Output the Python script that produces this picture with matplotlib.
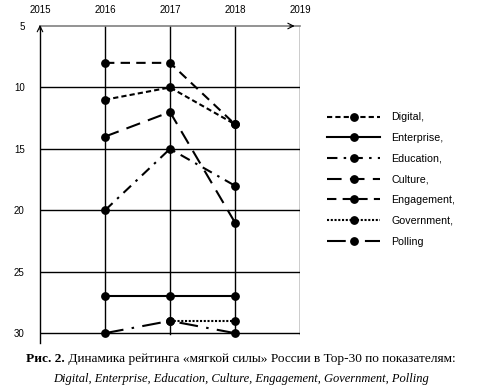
import numpy as np
import matplotlib
matplotlib.use("Agg")
import matplotlib.pyplot as plt

# данные: места России в рейтинге (меньше = лучше)
years = [2016, 2017, 2018]
digital = [11, 10, 13]
enterprise = [27, 27, 27]
education = [20, 15, 18]
culture = [14, 12, 21]
engagement = [8, 8, 13]
government = [np.nan, 29, 29]
polling = [30, 29, 30]

x_ticks = [2015, 2016, 2017, 2018, 2019]
y_ticks = [5, 10, 15, 20, 25, 30]

plt.rcParams['font.family'] = ['Liberation Sans', 'DejaVu Sans']

fig = plt.figure(figsize=(4.8, 3.91), dpi=100)
ax = fig.add_axes([40 / 480, 1 - 343 / 391, 260 / 480, 317 / 391])

series = [
    ('Digital,', digital, (0, (2.5, 1.5))),
    ('Enterprise,', enterprise, '-'),
    ('Education,', education, (0, (5, 3, 1.2, 3))),
    ('Culture,', culture, (0, (7, 4))),
    ('Engagement,', engagement, (0, (4.5, 3))),
    ('Government,', government, (0, (1, 0.8))),
    ('Polling', polling, (0, (9, 4, 1.2, 4))),
]
for name, vals, ls in series:
    ax.plot(years, vals, color='black', linestyle=ls, linewidth=1.5,
            marker='o', markersize=5.3, label=name)

ax.set_xlim(2015, 2019)
ax.set_ylim(30.8, 5)
ax.set_xticks(x_ticks)
ax.set_yticks(y_ticks)
ax.xaxis.tick_top()
ax.tick_params(axis='both', length=0, labelsize=7)
ax.tick_params(axis='x', pad=8)
ax.tick_params(axis='y', pad=11)

# сетка
for yv in y_ticks[1:]:
    ax.plot([2015, 2019.02], [yv, yv], color='black', linewidth=1, zorder=0)
for xv in x_ticks[1:]:
    ax.plot([xv, xv], [5, 30.1], color='black', linewidth=1, zorder=0)

for s in ['right', 'bottom']:
    ax.spines[s].set_visible(False)
ax.spines['left'].set_linewidth(1)
ax.spines['top'].set_color('#808080')
ax.spines['top'].set_linewidth(1.2)
ax.annotate('', xy=(0, 1.012), xytext=(0, 0.98), xycoords='axes fraction',
            arrowprops=dict(arrowstyle='->', color='black', lw=0.8))
ax.annotate('', xy=(0.99, 1), xytext=(0.95, 1), xycoords='axes fraction',
            arrowprops=dict(arrowstyle='->', color='black', lw=0.8))

ax.legend(loc='upper left', bbox_to_anchor=(322 / 480, 1 - 107 / 391),
          bbox_transform=fig.transFigure, frameon=False, fontsize=7.7,
          handlelength=4.9, labelspacing=1.0, borderpad=0, handletextpad=1.1)

# подпись
t1 = fig.text(26 / 480, 1 - 362 / 391, 'Рис. 2.', fontsize=9.6,
              family='Liberation Serif', fontweight='bold', va='baseline')
ax.annotate(' Динамика рейтинга «мягкой силы» России в Тор-30 по показателям:',
            xy=(1, 0), xycoords=t1, fontsize=9.6, family='Liberation Serif',
            va='bottom', annotation_clip=False)
fig.text(241 / 480, 1 - 382 / 391,
         'Digital, Enterprise, Education, Culture, Engagement, Government, Polling',
         fontsize=9, family='Liberation Serif', style='italic', ha='center',
         va='baseline')

fig.savefig('out.png', dpi=100)
